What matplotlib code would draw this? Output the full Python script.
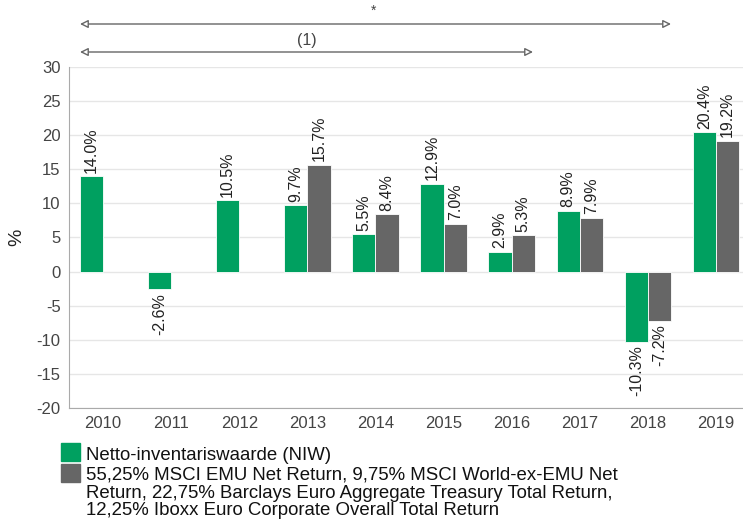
import numpy as np
import matplotlib.pyplot as plt

plt.rcParams['font.family'] = ['Liberation Sans', 'DejaVu Sans']
plt.rcParams['axes.unicode_minus'] = False

years = ['2010', '2011', '2012', '2013', '2014', '2015', '2016', '2017', '2018', '2019']
niw = [14.0, -2.6, 10.5, 9.7, 5.5, 12.9, 2.9, 8.9, -10.3, 20.4]
bench = [None, None, None, 15.7, 8.4, 7.0, 5.3, 7.9, -7.2, 19.2]
niw_label = 'Netto-inventariswaarde (NIW)'
bench_label = ('55,25% MSCI EMU Net Return, 9,75% MSCI World-ex-EMU Net\n'
               'Return, 22,75% Barclays Euro Aggregate Treasury Total Return,\n'
               '12,25% Iboxx Euro Corporate Overall Total Return')

green = '#00a060'
grey = '#666666'
W, H = 743, 521

fig = plt.figure(figsize=(W / 100, H / 100), dpi=100)
ax = fig.add_axes([69 / W, 1 - 408 / H, 681 / W, 341 / H])

x = np.arange(len(years))
w = 0.34
for i in range(len(years)):
    ax.bar(x[i] - w / 2, niw[i], w, color=green, edgecolor='white', linewidth=0.6, zorder=3)
    v = niw[i]
    ax.text(x[i] - w / 2, v + (0.5 if v >= 0 else -0.5), '%.1f%%' % v, rotation=90,
            ha='center', va='bottom' if v >= 0 else 'top', fontsize=11.5, color='#222222')
    if bench[i] is not None:
        b = bench[i]
        ax.bar(x[i] + w / 2, b, w, color=grey, edgecolor='white', linewidth=0.6, zorder=3)
        ax.text(x[i] + w / 2, b + (0.5 if b >= 0 else -0.5), '%.1f%%' % b, rotation=90,
                ha='center', va='bottom' if b >= 0 else 'top', fontsize=11.5, color='#222222')

ax.set_xlim(-0.5, len(years) - 0.5)
ax.set_ylim(-20, 30)
ax.set_yticks(range(-20, 31, 5))
ax.set_xticks(x)
ax.set_xticklabels(years)
ax.tick_params(length=0, labelsize=12, labelcolor='#444444', pad=6)
ax.grid(axis='y', color='#e6e6e6', linewidth=1, zorder=0)
for s in ['top', 'right']:
    ax.spines[s].set_visible(False)
for s in ['left', 'bottom']:
    ax.spines[s].set_color('#aaaaaa')
ax.set_ylabel('%', fontsize=14, color='#222222', labelpad=8)

# period arrows above the chart
arr = dict(arrowstyle='<|-|>', color='#666666', lw=1, fc='white', mutation_scale=12, shrinkA=0, shrinkB=0)
plt.annotate('', xy=(671 / W, 1 - 24 / H), xytext=(80 / W, 1 - 24 / H),
             xycoords='figure fraction', arrowprops=arr)
fig.text(374 / W, 1 - 11 / H, '*', ha='center', va='center', fontsize=10, color='#444444')
plt.annotate('', xy=(533 / W, 1 - 52 / H), xytext=(80 / W, 1 - 52 / H),
             xycoords='figure fraction', arrowprops=arr)
fig.text(307 / W, 1 - 41 / H, '(1)', ha='center', va='center', fontsize=11.5, color='#444444')

# legend
fig.patches.append(plt.Rectangle((61 / W, 1 - 461 / H), 19 / W, 18 / H, color=green, transform=fig.transFigure))
fig.text(86 / W, 1 - 460 / H, niw_label, va='baseline', fontsize=13.4, color='#111111')
fig.patches.append(plt.Rectangle((61 / W, 1 - 482 / H), 19 / W, 18 / H, color=grey, transform=fig.transFigure))
fig.text(86 / W, 1 - 467 / H, bench_label, va='top', fontsize=13.4, color='#111111', linespacing=1.05)

fig.savefig('out.png', dpi=100)
